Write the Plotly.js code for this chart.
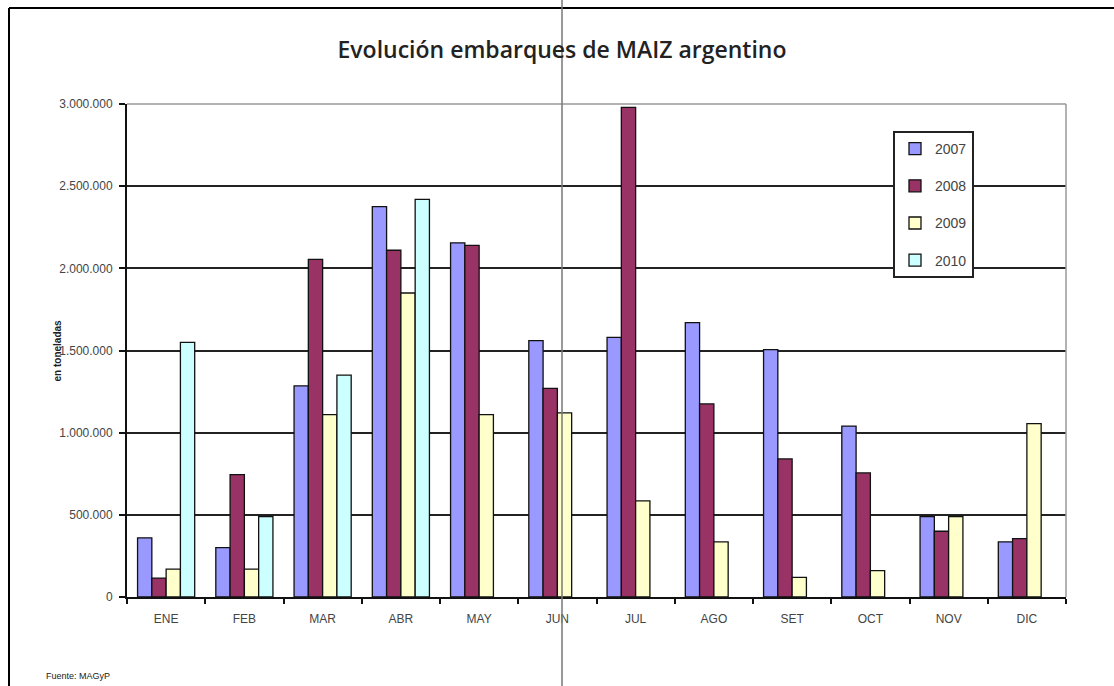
<!DOCTYPE html>
<html>
<head>
<meta charset="utf-8">
<script src="https://cdn.plot.ly/plotly-3.0.1.min.js"></script>
<style>
  html, body { margin: 0; padding: 0; background: #fff; }
  #chart { width: 1114px; height: 686px; }
</style>
</head>
<body>
<div id="chart"></div>
<script>
// ---- data ----
const months = ["ENE", "FEB", "MAR", "ABR", "MAY", "JUN", "JUL", "AGO", "SET", "OCT", "NOV", "DIC"];
const years = ["2007", "2008", "2009", "2010"];
const y2007 = [360000, 300000, 1285000, 2375000, 2155000, 1560000, 1580000, 1670000, 1505000, 1040000, 490000, 335000];
const y2008 = [115000, 745000, 2055000, 2110000, 2140000, 1270000, 2980000, 1175000, 840000, 755000, 400000, 355000];
const y2009 = [170000, 170000, 1110000, 1850000, 1110000, 1120000, 585000, 335000, 120000, 160000, 490000, 1055000];
const y2010 = [1550000, 490000, 1350000, 2420000, null, null, null, null, null, null, null, null];
const yTicks = [0, 500000, 1000000, 1500000, 2000000, 2500000, 3000000];
const titleText = "Evolución embarques de MAIZ argentino";
const yTitleText = "en toneladas";
const sourceText = "Fuente: MAGyP";

const series = [y2007, y2008, y2009, y2010];
const colors = ["#9999FF", "#993366", "#FFFFCC", "#CCFFFF"];

// ---- geometry (pixels) ----
const W = 1114, H = 686;
const L = 127, R = 1066, T = 104, B = 597;
const pw = R - L, ph = B - T;
const px = v => (v - L) / pw;     // pixel x -> paper
const py = v => (B - v) / ph;     // pixel y -> paper

const traces = series.map((vals, i) => ({
  type: "bar",
  name: years[i],
  x: months,
  y: vals,
  legendgroup: "g" + i,
  marker: { color: colors[i], line: { color: "#111", width: 1.3 } },
  hoverinfo: "x+y+name"
}));

const shapes = [
  // plot-area top and right borders (gray)
  { type: "line", xref: "paper", yref: "paper", x0: 0, x1: 1, y0: 1, y1: 1, line: { color: "#999", width: 1.5 } },
  { type: "line", xref: "paper", yref: "paper", x0: 1, x1: 1, y0: 0, y1: 1, line: { color: "#999", width: 1.5 } },
  // outer frame: left and top
  { type: "line", xref: "paper", yref: "paper", x0: px(9), x1: px(9), y0: py(8), y1: py(H + 5), line: { color: "#000", width: 2 } },
  { type: "line", xref: "paper", yref: "paper", x0: px(9), x1: px(W + 5), y0: py(8), y1: py(8), line: { color: "#000", width: 2 } },
  // page fold line
  { type: "line", xref: "paper", yref: "paper", x0: px(562), x1: px(562), y0: py(-5), y1: py(H + 5), line: { color: "#777", width: 1.5 } }
];

const layout = {
  width: W, height: H,
  margin: { l: L, r: W - R, t: T, b: H - B, pad: 0 },
  paper_bgcolor: "#fff",
  plot_bgcolor: "#fff",
  separators: ",.",
  barmode: "group",
  bargap: 0.27,
  bargroupgap: 0,
  title: {
    text: titleText,
    x: 562 / W, xanchor: "center",
    y: 1 - 50 / H, yanchor: "middle",
    font: { family: "Open Sans, Noto Sans, sans-serif", size: 23, color: "#222", weight: 600 }
  },
  font: { family: "Liberation Sans Narrow, Liberation Sans, Arial, sans-serif", color: "#333" },
  xaxis: {
    type: "category",
    showgrid: false,
    showline: true, linecolor: "#111", linewidth: 2,
    ticks: "outside", tickson: "boundaries", ticklen: 5, tickcolor: "#111", tickwidth: 2,
    tickfont: { size: 12, color: "#444" },
    ticklabelstandoff: 10,
    fixedrange: true
  },
  yaxis: {
    range: [0, 3000000],
    tickvals: yTicks,
    tickformat: ",d",
    showgrid: true, gridcolor: "#222", gridwidth: 2,
    showline: true, linecolor: "#111", linewidth: 2,
    ticks: "outside", ticklen: 6, tickcolor: "#111", tickwidth: 2,
    tickfont: { size: 12, color: "#444" },
    ticklabelstandoff: 4,
    zeroline: false,
    fixedrange: true
  },
  legend: {
    x: px(893), y: py(131), xanchor: "left", yanchor: "top",
    bgcolor: "#fff", bordercolor: "#222", borderwidth: 2,
    font: { size: 14, color: "#444", family: "Liberation Sans Narrow, Liberation Sans, Arial, sans-serif" },
    traceorder: "grouped",
    tracegroupgap: 16,
    itemwidth: 30
  },
  annotations: [
    {
      text: "<b>" + yTitleText + "</b>", xref: "paper", yref: "paper",
      x: px(57), y: 0.5, textangle: -90, showarrow: false,
      xanchor: "center", yanchor: "middle",
      font: { size: 10, color: "#222", family: "Liberation Sans, Arial, sans-serif" }
    },
    {
      text: sourceText, xref: "paper", yref: "paper",
      x: px(44), y: py(676), xanchor: "left", yanchor: "middle", showarrow: false,
      font: { size: 9, color: "#222", family: "Liberation Sans, Arial, sans-serif" }
    }
  ],
  shapes: shapes,
  showlegend: true
};

Plotly.newPlot("chart", traces, layout, { displayModeBar: false, staticPlot: true });
</script>
</body>
</html>
